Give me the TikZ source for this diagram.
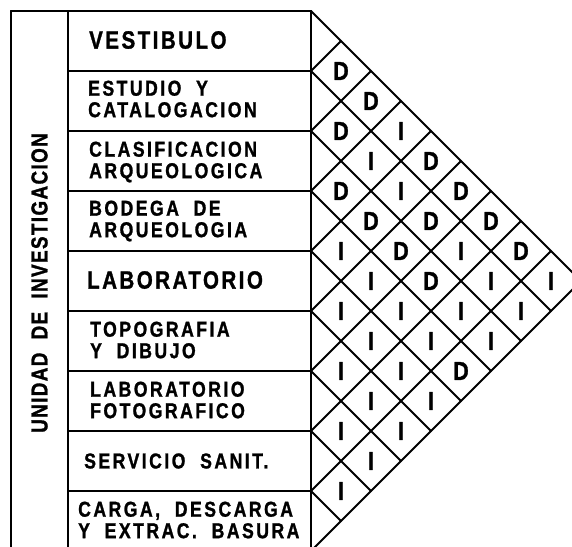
\documentclass[tikz,border=0pt]{standalone}
\usepackage{fontspec}
\setmainfont{Liberation Sans}[FakeStretch=0.82, LetterSpace=11.5, WordSpace=2.0]
\usepackage{tikz}

\begin{document}
\begin{tikzpicture}[x=1pt, y=-1pt,
    rowlabel/.style = {anchor=west, align=left, inner sep=0pt,
                       font=\bfseries\fontsize{21.5}{21.5}\selectfont\addfontfeature{FakeBold=1.2}},
    biglabel/.style = {rowlabel, font=\bfseries\fontsize{25}{25}\selectfont\addfontfeature{LetterSpace=10.0, FakeBold=1.2}},
    rel/.style      = {inner sep=0pt,
                       font=\bfseries\fontsize{26}{26}\selectfont\addfontfeature{FakeBold=1.2}},
    rule/.style     = {line width=2pt, line cap=round}
]
% --- Marco: x de las columnas, y arriba / abajo ---------------------------
\def\xL{11}
\def\xM{68}
\def\xR{311}
\def\yT{11}
\def\yB{551}

\useasboundingbox (0,0) rectangle (572,546);
\clip (0,0) rectangle (572,546);

% --- Columna izquierda (texto vertical) ----------------------------------
\node[rotate=90, inner sep=0pt,
      font=\bfseries\fontsize{23}{23}\selectfont\addfontfeature{LetterSpace=6.0, FakeBold=1.2}]
  (unidad) at (39.5, 283) {UNIDAD DE INVESTIGACION};

% --- Locales (una fila por local) ----------------------------------------
\node[biglabel] (vest) at (89,  40) {VESTIBULO};
\node[rowlabel] (estu) at (88,  99) {ESTUDIO Y\\CATALOGACION};
\node[rowlabel] (clas) at (89, 162) {CLASIFICACION\\ARQUEOLOGICA};
\node[rowlabel] (bode) at (89, 221) {BODEGA DE\\ARQUEOLOGIA};
\node[biglabel] (labo) at (87, 280) {LABORATORIO};
\node[rowlabel] (topo) at (90, 340) {TOPOGRAFIA\\Y DIBUJO};
\node[rowlabel] (foto) at (90, 400) {LABORATORIO\\FOTOGRAFICO};
\node[rowlabel] (serv) at (84, 461) {SERVICIO SANIT.};
\node[rowlabel] (carg) at (78, 520) {CARGA, DESCARGA\\Y EXTRAC. BASURA};

% --- Lineas del marco ----------------------------------------------------
\draw[rule] (\xL,\yT) -- (\xR,\yT);
\draw[rule] (\xL,\yT) -- (\xL,\yB);
\draw[rule] (\xM,\yT) -- (\xM,\yB);
\draw[rule] (\xR,\yT) -- (\xR,\yB);
\foreach \k in {1,...,8}
  \draw[rule] (\xM,{\yT+60*\k}) -- (\xR,{\yT+60*\k});

% --- Matriz de relaciones: diagonales desde cada limite de fila ----------
\foreach \k in {0,...,9} {
  \pgfmathsetmacro\yk{\yT+60*\k}
  \coordinate (b\k)  at (\xR, \yk);
  \coordinate (lo\k) at ({\xR+(\yB-\yk)/2}, {(\yk+\yB)/2});
  \coordinate (up\k) at ({\xR+(\yk-\yT)/2}, {(\yk+\yT)/2});
  \draw[rule] (b\k) -- (lo\k);
  \draw[rule] (b\k) -- (up\k);
}

% D = directa, I = indirecta  (fila i / fila j / letra)
\foreach \i/\j/\r in {1/2/D, 2/3/D, 3/4/D, 4/5/I, 5/6/I, 6/7/I, 7/8/I, 8/9/I,
                      1/3/D, 2/4/I, 3/5/D, 4/6/I, 5/7/I, 6/8/I, 7/9/I,
                      1/4/I, 2/5/I, 3/6/D, 4/7/I, 5/8/I, 6/9/I,
                      1/5/D, 2/6/D, 3/7/D, 4/8/I, 5/9/I,
                      1/6/D, 2/7/I, 3/8/I, 4/9/D,
                      1/7/D, 2/8/I, 3/9/I,
                      1/8/D, 2/9/I,
                      1/9/I}
  \node[rel] (r\i\j) at ({\xR+30*(\j-\i)}, {\yT+30*(\i+\j-1)}) {\r};
\end{tikzpicture}
\end{document}
